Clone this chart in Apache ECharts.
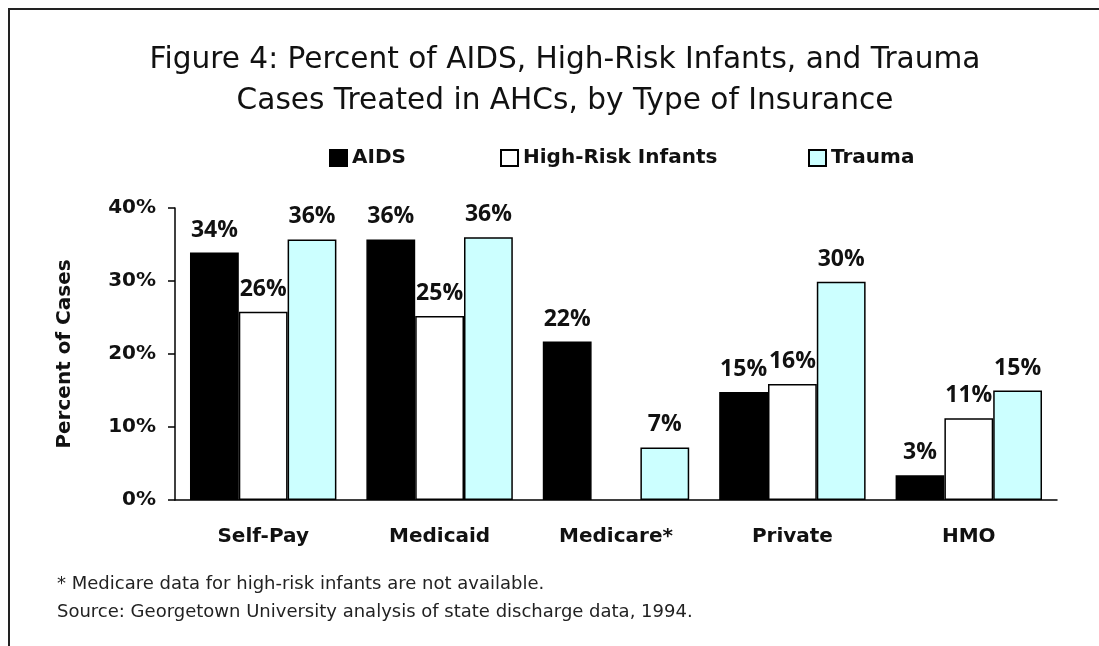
<!DOCTYPE html>
<html>
<head>
<meta charset="utf-8">
<script src="https://cdn.jsdelivr.net/npm/echarts@6/dist/echarts.min.js"></script>
<style>
  html, body { margin: 0; padding: 0; background: #fff; }
  #chart { width: 1099px; height: 646px; }
</style>
</head>
<body>
<div id="chart"></div>
<script>
const categories = ['Self-Pay', 'Medicaid', 'Medicare*', 'Private', 'HMO'];
const aids = [33.9, 35.7, 21.7, 14.8, 3.4];
const highRisk = [25.8, 25.2, null, 15.9, 11.2];
const trauma = [35.7, 36.0, 7.2, 29.9, 15.0];
const yTicks = [0, 10, 20, 30, 40];

const boldFont = 'DejaVu Sans';

const labelStyle = {
  show: true,
  position: 'top',
  distance: 11,
  fontFamily: 'Open Sans',
  fontWeight: 'bold',
  fontSize: 23,
  color: '#111',
  formatter: p => Math.round(p.value) + '%'
};

const makeSeries = (name, data, fill) => ({
  name: name,
  type: 'bar',
  data: data,
  barGap: '0%',
  barCategoryGap: '17%',
  itemStyle: { color: fill, borderColor: '#000', borderWidth: 1.5 },
  label: labelStyle,
  emphasis: { disabled: true }
});

const legendText = { fontFamily: boldFont, fontWeight: 'bold', fontSize: 20, color: '#111' };

const makeLegend = (name, left) => ({
  data: [name],
  left: left,
  top: 148,
  padding: 0,
  icon: 'rect',
  itemWidth: 17,
  itemHeight: 16,
  textStyle: legendText,
  selectedMode: false
});

const option = {
  animation: false,
  title: {
    text: 'Figure 4: Percent of AIDS, High-Risk Infants, and Trauma\nCases Treated in AHCs, by Type of Insurance',
    left: 565,
    top: 40,
    padding: 0,
    textAlign: 'center',
    textStyle: {
      fontFamily: 'DejaVu Sans',
      fontWeight: 'normal',
      fontSize: 29.6,
      lineHeight: 41,
      color: '#111'
    }
  },
  legend: [
    makeLegend('AIDS', 329),
    makeLegend('High-Risk Infants', 500),
    makeLegend('Trauma', 808)
  ],
  grid: { left: 175, right: 42, top: 208, bottom: 146 },
  xAxis: {
    type: 'category',
    data: categories,
    axisLine: { lineStyle: { color: '#000', width: 1.5 } },
    axisTick: { length: 7, lineStyle: { color: '#000', width: 1.5 } },
    axisLabel: { margin: 27, fontFamily: boldFont, fontWeight: 'bold', fontSize: 20, color: '#111' }
  },
  yAxis: {
    type: 'value',
    min: yTicks[0],
    max: yTicks[yTicks.length - 1],
    interval: 10,
    name: 'Percent of Cases',
    nameLocation: 'middle',
    nameGap: 100,
    nameTextStyle: { fontFamily: boldFont, fontWeight: 'bold', fontSize: 20, color: '#111' },
    axisLine: { show: true, lineStyle: { color: '#000', width: 1.5 } },
    axisTick: { show: true, length: 7, lineStyle: { color: '#000', width: 1.5 } },
    splitLine: { show: false },
    axisLabel: { margin: 19, fontFamily: boldFont, fontWeight: 'bold', fontSize: 20, color: '#111', formatter: '{value}%' }
  },
  series: [
    makeSeries('AIDS', aids, '#000'),
    makeSeries('High-Risk Infants', highRisk, '#fff'),
    makeSeries('Trauma', trauma, '#CCFFFF')
  ],
  graphic: [
    {
      type: 'rect',
      shape: { x: 9, y: 9, width: 1200, height: 1000 },
      style: { fill: 'none', stroke: '#222', lineWidth: 2 },
      silent: true
    },
    {
      type: 'text',
      left: 57,
      top: 575,
      style: {
        text: '* Medicare data for high-risk infants are not available.',
        fontFamily: 'DejaVu Sans',
        fontSize: 18,
        fill: '#222'
      }
    },
    {
      type: 'text',
      left: 57,
      top: 603,
      style: {
        text: 'Source: Georgetown University analysis of state discharge data, 1994.',
        fontFamily: 'DejaVu Sans',
        fontSize: 18,
        fill: '#222'
      }
    }
  ]
};

const chart = echarts.init(document.getElementById('chart'));
chart.setOption(option);
</script>
</body>
</html>
